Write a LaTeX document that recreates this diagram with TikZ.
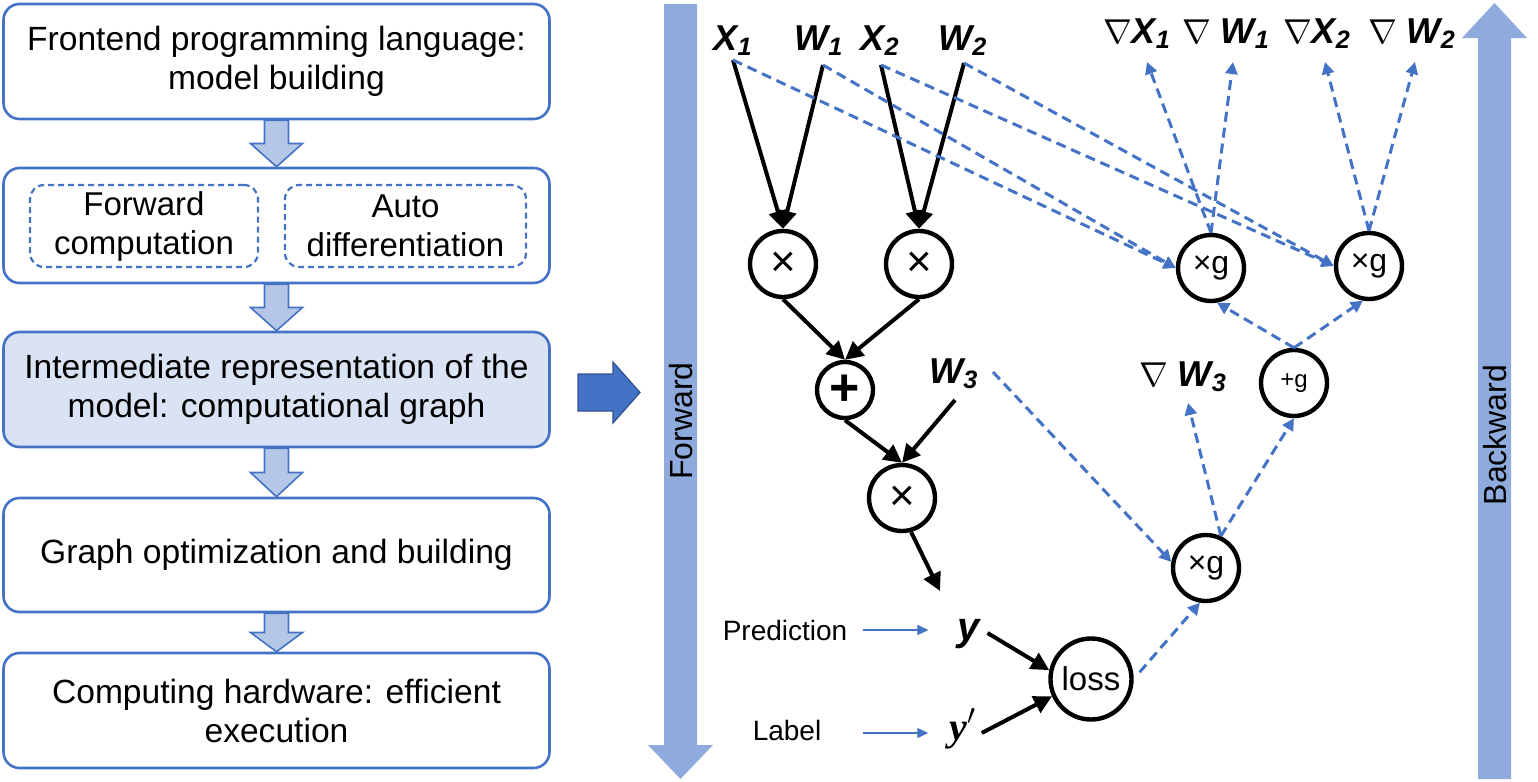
\documentclass[tikz,border=0pt]{standalone}
\usepackage{fontspec}
\setmainfont{Liberation Sans}
\newfontfamily\lser{Liberation Serif}
\usetikzlibrary{arrows.meta,calc}
\definecolor{bblue}{HTML}{4472C4}
\definecolor{lblue}{HTML}{DAE3F3}
\definecolor{ablue}{HTML}{B4C7E7}
\definecolor{fblue}{HTML}{8FAADC}
\definecolor{dblue}{HTML}{2F528F}
\newcommand{\gv}[2]{{\bfseries\itshape #1\textsubscript{#2}}}
\newcommand{\nab}{$\nabla$}
\newcommand{\blk}[2]{%
  \path[fill=ablue,draw=bblue,line width=0.8pt]
    ($(#1.south)+(-12,0)$) -- ($($(#1.south)!0.5!(#2.north)$)+(-12,0)$)
    -- ($($(#1.south)!0.5!(#2.north)$)+(-26,0)$) -- (#2.north)
    -- ($($(#1.south)!0.5!(#2.north)$)+(26,0)$) -- ($($(#1.south)!0.5!(#2.north)$)+(12,0)$)
    -- ($(#1.south)+(12,0)$) -- cycle;}
\begin{document}
\begin{tikzpicture}[x=0.5pt,y=-0.5pt,
  stage/.style={draw=bblue,line width=1.3pt,rounded corners=8pt,minimum width=273pt,
    align=center,font=\fontsize{16.8}{19.5}\selectfont,inner sep=0pt},
  subbox/.style={draw=bblue,line width=1.1pt,dash pattern=on 3pt off 2pt,rounded corners=7pt,
    minimum height=41pt,align=center,font=\fontsize{16.5}{19.5}\selectfont,inner sep=0pt},
  op/.style={circle,draw=black,line width=2.2pt,minimum size=33pt,inner sep=0pt},
  lbl/.style={inner sep=0pt,anchor=base,font=\fontsize{18}{18}\selectfont},
  farrow/.style={line width=2pt,-{Triangle[length=9pt,width=9pt]}},
  darrow/.style={draw=bblue,line width=1.5pt,dash pattern=on 5pt off 3pt,-{Triangle[length=6pt,width=6pt]}},
  tarrow/.style={draw=bblue,line width=0.6pt,-{Triangle[length=5.5pt,width=5pt]}}
]
\useasboundingbox (0,0) rectangle (1538,782);

% ---------- left column ----------
\node[stage,minimum height=57.5pt] (b1) at (276.5,61.5) {Frontend programming language:\\model building};
\node[stage,minimum height=57.5pt] (b2) at (276.5,225.5) {};
\node[subbox,minimum width=114pt] (fc) at (144,226) {Forward\\computation};
\node[subbox,minimum width=120.5pt] (ad) at (405.5,226) {Auto\\differentiation};
\node[stage,fill=lblue,minimum height=57.5pt] (b3) at (276.5,389.5) {Intermediate representation of the\\model: computational graph};
\node[stage,minimum height=57pt] (b4) at (276.5,555) {Graph optimization and building};
\node[stage,minimum height=57.5pt] (b5) at (276.5,710.5) {Computing hardware: efficient\\execution};
\blk{b1}{b2}
\blk{b2}{b3}
\blk{b3}{b4}
\blk{b4}{b5}

% big right arrow
\path[fill=bblue,draw=dblue,line width=0.6pt] (578,374) -- (613,374) -- (613,362) -- (640,392.5)
  -- (613,423) -- (613,411) -- (578,411) -- cycle;

% Forward / Backward arrows
\path[fill=fblue] (664,4) -- (697,4) -- (697,745) -- (713,745) -- (680.5,779) -- (648,745) -- (664,745) -- cycle;
\node[rotate=90,font=\fontsize{16}{16}\selectfont] (fwd) at (681,421) {Forward};
\path[fill=fblue] (1478,779) -- (1511,779) -- (1511,38) -- (1527,38) -- (1494.5,3) -- (1462,38) -- (1478,38) -- cycle;
\node[rotate=90,font=\fontsize{16}{16}\selectfont] (bwd) at (1495,435) {Backward};

% ---------- forward graph ----------
\node[lbl] (X1) at (733,50) {\gv{X}{1}};
\node[lbl] (W1) at (819,50) {\gv{W}{1}};
\node[lbl] (X2) at (880,50) {\gv{X}{2}};
\node[lbl] (W2) at (963,50) {\gv{W}{2}};
\coordinate (x1s) at ($(X1.base)+(0,10)$);
\coordinate (w1s) at ($(W1.base)+(4,15)$);
\coordinate (x2s) at ($(X2.base)+(1,15)$);
\coordinate (w2s) at ($(W2.base)+(1,13)$);

\node[op,font=\fontsize{22}{22}\selectfont] (m1) at (783,264) {×};
\node[op,font=\fontsize{22}{22}\selectfont] (m2) at (919,264) {×};
\node[op,minimum size=28pt,font=\bfseries\fontsize{26}{26}\selectfont] (pl) at (845,390) {+};
\node[op,font=\fontsize{22}{22}\selectfont] (m3) at (902,498) {×};
\node[lbl] (W3) at (954,383) {\gv{W}{3}};
\node[lbl,font=\fontsize{20}{20}\selectfont] (yy) at (969,640) {\bfseries\itshape y};
\node[lbl,font=\fontsize{20}{20}\selectfont] (yp) at (963,740) {{\lser\bfseries\itshape y}${}^{\prime}$};
\node[op,minimum size=40.5pt,font=\fontsize{16.5}{16.5}\selectfont] (loss) at (1091,679) {loss};
\node[lbl,font=\fontsize{14}{14}\selectfont] (pred) at (785,640) {Prediction};
\node[lbl,font=\fontsize{14}{14}\selectfont] (lab) at (787,740) {Label};

\draw[farrow] (x1s) -- (m1.north);
\draw[farrow] (w1s) -- (m1.north);
\draw[farrow] (x2s) -- (m2.north);
\draw[farrow] (w2s) -- (m2.north);
\draw[farrow] (m1.south) -- (pl.north);
\draw[farrow] (m2.south) -- (pl.north);
\draw[farrow] (pl.south) -- (m3.north);
\draw[farrow] ($(W3.base)+(1,17)$) -- (m3.north);
\draw[farrow] (m3.-75) -- ($(yy.base)+(-29,-49)$);
\draw[farrow] ($(yy.base east)+(7,-7)$) -- (loss.168);
\draw[farrow] ($(yp.base east)+(5,-7)$) -- (loss.-156);
\draw[tarrow] ($(pred.base east)+(15,-10)$) -- ($(yy.base west)+(-29,-10)$);
\draw[tarrow] ($(lab.base east)+(41,-7)$) -- ($(yp.base west)+(-21,-7)$);

% ---------- backward graph ----------
\node[op,font=\fontsize{16}{16}\selectfont] (g1) at (1211,268) {×g};
\node[op,font=\fontsize{16}{16}\selectfont] (g2) at (1369,266) {×g};
\node[op,font=\fontsize{12}{12}\selectfont] (pg) at (1294,383) {+g};
\node[op,font=\fontsize{16}{16}\selectfont] (g3) at (1206,568) {×g};

\node[lbl] (dX1) at (1137,43) {\nab\gv{X}{1}};
\node[lbl] (dW1) at (1226,43) {\nab{} \gv{W}{1}};
\node[lbl] (dX2) at (1317,43) {\nab\gv{X}{2}};
\node[lbl] (dW2) at (1412,43) {\nab{} \gv{W}{2}};
\node[lbl] (dW3) at (1183,386) {\nab{} \gv{W}{3}};

\draw[darrow] (x1s) -- (g1.west);
\draw[darrow] (w1s) -- (g1.west);
\draw[darrow] (x2s) -- (g2.west);
\draw[darrow] (w2s) -- (g2.west);
\draw[darrow] (g1.north) -- ($(dX1.base)+(10,19)$);
\draw[darrow] (g1.north) -- ($(dW1.base)+(7,19)$);
\draw[darrow] (g2.north) -- ($(dX2.base)+(8,19)$);
\draw[darrow] (g2.north) -- ($(dW2.base)+(3,19)$);
\draw[darrow] (pg.north) -- (g1.-80);
\draw[darrow] (pg.north) -- (g2.-100);
\draw[darrow] (g3.65) -- (pg.south);
\draw[darrow] (g3.65) -- ($(dW3.base)+(5,17)$);
\draw[darrow] ($(W3.base)+(39,-11)$) -- (g3.170);
\draw[darrow,shorten <=4.5pt] (loss.east) -- (g3.-100);
\end{tikzpicture}
\end{document}
